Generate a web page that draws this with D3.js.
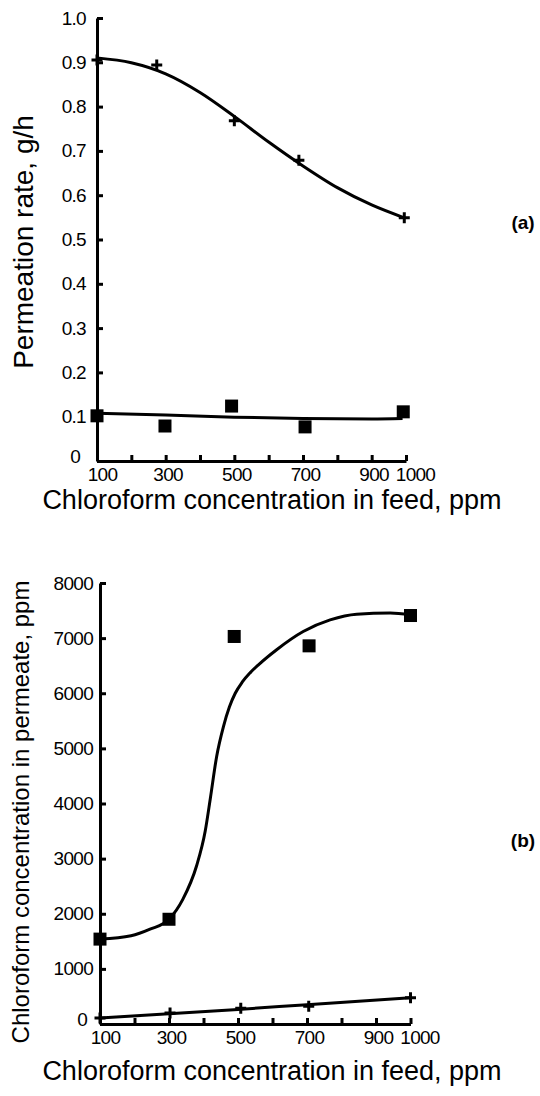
<!DOCTYPE html>
<html>
<head>
<meta charset="utf-8">
<script src="https://cdn.jsdelivr.net/npm/d3@7"></script>
<style>
  html, body { margin: 0; padding: 0; background: #fff; }
  svg { display: block; }
  .tick text { font-family: "Liberation Sans", "DejaVu Sans", sans-serif; font-size: 19px; letter-spacing: -0.7px; fill: #000; }
  .title { font-family: "Liberation Sans", "DejaVu Sans", sans-serif; fill: #000; }
</style>
</head>
<body>
<svg id="chart" width="540" height="1096"></svg>
<script>
// shared x axis: chloroform in feed, ppm
const feedTicks = [100, 200, 300, 400, 500, 600, 700, 800, 900, 1000];
const feedLabels = [100, 300, 500, 700, 900, 1000];

// (a) permeation rate, g/h
const rateTicks = [0, 0.1, 0.2, 0.3, 0.4, 0.5, 0.6, 0.7, 0.8, 0.9, 1.0];
const rateCrossX = [100, 274, 500, 688, 995];
const rateCrossY = [0.905, 0.894, 0.768, 0.679, 0.549];
const rateSquareX = [100, 298, 492, 706, 992];
const rateSquareY = [0.102, 0.079, 0.124, 0.077, 0.111];
const rateCrossFitX = [100, 200, 300, 400, 500, 600, 700, 800, 900, 995];
const rateCrossFitY = [0.910, 0.899, 0.874, 0.832, 0.778, 0.720, 0.666, 0.617, 0.578, 0.549];
const rateSquareFitX = [100, 300, 500, 700, 900, 990];
const rateSquareFitY = [0.108, 0.104, 0.099, 0.096, 0.095, 0.096];

// (b) chloroform in permeate, ppm
const permTicks = [0, 1000, 2000, 3000, 4000, 5000, 6000, 7000, 8000];
const permSquareX = [100, 300, 489, 706, 1000];
const permSquareY = [1540, 1900, 7030, 6860, 7410];
const permCrossX = [100, 303, 508, 705, 1000];
const permCrossY = [110, 200, 285, 320, 475];
const permSquareFitX = [100, 190, 245, 300, 340, 380, 405, 420, 438, 458, 475, 492, 512, 535, 560, 612, 689, 767, 844, 941, 1000];
const permSquareFitY = [1540, 1600, 1720, 1900, 2260, 2870, 3500, 4100, 4850, 5400, 5750, 6000, 6200, 6370, 6520, 6790, 7120, 7330, 7435, 7455, 7425];
const permCrossFitX = [100, 300, 500, 700, 1000];
const permCrossFitY = [110, 185, 265, 350, 475];

const zip = (xs, ys) => xs.map((x, i) => [x, ys[i]]);

const svg = d3.select("#chart");

const panels = [
    {
        x0: 97, x1: 406, y0: 461, y1: 18,
        yDomain: [0, 1], yTicks: rateTicks, yPad: 11,
        yFormat: d => d === 0 ? "0" : d.toFixed(1),
        yTitle: "Permeation rate, g/h", yTitleX: 23, yTitleY: 242, yTitleSize: 28,
        xTitleY: 509,
        tag: "(a)", tagY: 229,
        fits: [zip(rateCrossFitX, rateCrossFitY), zip(rateSquareFitX, rateSquareFitY)],
        crosses: zip(rateCrossX, rateCrossY),
        squares: zip(rateSquareX, rateSquareY)
    },
    {
        x0: 100, x1: 410.5, y0: 1024, y1: 583,
        yDomain: [0, 8000], yTicks: permTicks, yPad: 7,
        yFormat: d => String(d),
        yTitle: "Chloroform concentration in permeate, ppm", yTitleX: 21, yTitleY: 812, yTitleSize: 24,
        xTitleY: 1080,
        tag: "(b)", tagY: 847,
        fits: [zip(permSquareFitX, permSquareFitY), zip(permCrossFitX, permCrossFitY)],
        crosses: zip(permCrossX, permCrossY),
        squares: zip(permSquareX, permSquareY)
    }
];

for (const p of panels) {
    const x = d3.scaleLinear().domain([100, 1000]).range([p.x0, p.x1]);
    const y = d3.scaleLinear().domain(p.yDomain).range([p.y0, p.y1]);
    const g = svg.append("g");

    const yAxis = g.append("g")
        .attr("transform", `translate(${p.x0},0)`)
        .call(d3.axisLeft(y).tickValues(p.yTicks).tickFormat(p.yFormat)
            .tickSizeInner(-6).tickSizeOuter(0).tickPadding(p.yPad));
    const xAxis = g.append("g")
        .attr("transform", `translate(0,${p.y0})`)
        .call(d3.axisBottom(x).tickValues(feedTicks)
            .tickFormat(d => feedLabels.includes(d) ? d : "")
            .tickSizeInner(-6).tickSizeOuter(0).tickPadding(7));

    for (const a of [xAxis, yAxis]) {
        a.select(".domain").attr("stroke", "#000").attr("stroke-width", 3);
        a.selectAll(".tick line").attr("stroke", "#000").attr("stroke-width", 3);
    }
    xAxis.selectAll(".tick text").attr("dx", d => d === 1000 ? 9 : d === 100 ? 5 : 2);
    // the zero label sits a little left of and above the corner
    yAxis.selectAll(".tick text").filter(d => d === 0)
        .attr("dx", -6).attr("dy", "0.1em");

    const line = d3.line()
        .x(d => x(d[0]))
        .y(d => y(d[1]))
        .curve(d3.curveMonotoneX);

    g.selectAll(".fit")
        .data(p.fits)
        .join("path")
        .attr("class", "fit")
        .attr("d", line)
        .attr("fill", "none")
        .attr("stroke", "#000")
        .attr("stroke-width", 3);

    const s = 13;
    g.selectAll(".square")
        .data(p.squares)
        .join("rect")
        .attr("class", "square")
        .attr("x", d => x(d[0]) - s / 2)
        .attr("y", d => y(d[1]) - s / 2)
        .attr("width", s)
        .attr("height", s)
        .attr("fill", "#000");

    const c = 5.5;
    g.selectAll(".cross")
        .data(p.crosses)
        .join("path")
        .attr("class", "cross")
        .attr("d", d => {
            const cx = x(d[0]), cy = y(d[1]);
            return `M${cx - c},${cy}H${cx + c}M${cx},${cy - c}V${cy + c}`;
        })
        .attr("stroke", "#000")
        .attr("stroke-width", 3);

    g.append("text")
        .attr("class", "title")
        .attr("transform", `translate(${p.yTitleX},${p.yTitleY}) rotate(-90)`)
        .attr("text-anchor", "middle")
        .attr("dy", "0.35em")
        .style("font-size", p.yTitleSize + "px")
        .text(p.yTitle);

    g.append("text")
        .attr("class", "title")
        .attr("x", 272)
        .attr("y", p.xTitleY)
        .attr("text-anchor", "middle")
        .style("font-size", "27px")
        .text("Chloroform concentration in feed, ppm");

    g.append("text")
        .attr("class", "title")
        .attr("x", 523)
        .attr("y", p.tagY)
        .attr("text-anchor", "middle")
        .style("font-size", "19px")
        .style("font-weight", "bold")
        .text(p.tag);
}
</script>
</body>
</html>
